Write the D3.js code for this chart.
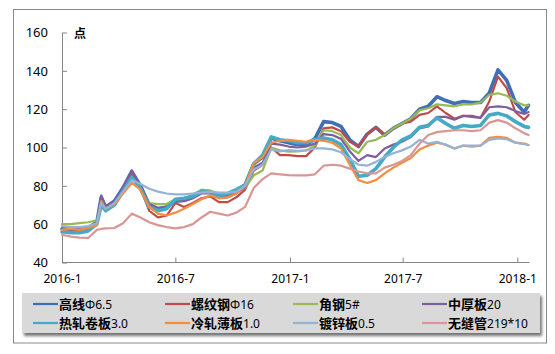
<!DOCTYPE html>
<html>
<head>
<meta charset="utf-8">
<script src="https://cdn.jsdelivr.net/npm/d3@7"></script>
<style>
  body { margin: 0; background: #fff; }
  svg { display: block; }
</style>
</head>
<body>
<svg id="chart"></svg>
<script>
// Dates (roughly fortnightly, plus the March 2016 spike)
const dates = ["2016-01-01","2016-01-15","2016-01-29","2016-02-12","2016-02-26","2016-03-04",
  "2016-03-11","2016-03-25","2016-04-08","2016-04-22","2016-05-06","2016-05-20","2016-06-03","2016-06-17",
  "2016-07-01","2016-07-15","2016-07-29","2016-08-12","2016-08-26","2016-09-09","2016-09-23","2016-10-07",
  "2016-10-21","2016-11-04","2016-11-18","2016-12-02","2016-12-16","2016-12-30","2017-01-13","2017-01-27",
  "2017-02-10","2017-02-24","2017-03-10","2017-03-24","2017-04-07","2017-04-21","2017-05-05","2017-05-19",
  "2017-06-02","2017-06-16","2017-06-30","2017-07-14","2017-07-28","2017-08-11","2017-08-25","2017-09-08",
  "2017-09-22","2017-10-06","2017-10-20","2017-11-03","2017-11-17","2017-12-01","2017-12-15","2017-12-29",
  "2018-01-12","2018-01-19"];

// Series values (index points)
const gaoxian = [57.5,57,57,58,61,74, 69,72,79,87.5,80,70,68,69, 72,72.5,74,77,77,75,75.5,77, 80.5,91.5,95,105,103.5,102.5,101.5,101.5,
  104.5,113.5,113,111,104,100.5,107,110.5, 106.5,110,112.5,115,120,121.5,126.5,124.5, 123,124,123.5,123.5,128.5,140.5,135,123.5, 118.5,122];
const luowen = [56,56,56.5,57.5,60,73, 68.5,71,77,86,79,67,63.5,64.5, 71,69,71,73.5,74.5,71.5,71.5,74, 78,88,91,100,96,96,95.5,95.5,
  100,110,110.5,108.5,103,100.5,107,110.5, 106.5,110,112.5,113.5,117,118,121.5,118, 115,116.5,116.5,115.5,124,137,131,118.5, 114.5,117];
const jiaogang = [60,60,60.5,61,62,72, 68,71,77,84,79,71,70.5,70.5, 73,73,75.5,78,77.5,75.5,76,77, 79,85.5,88,100,98.5,97.8,98,98.5,
  101,109,108.5,106.5,100,97,103,104, 106.5,110,112.5,115,119.5,120.5,122.5,122, 121.5,122.5,122.5,123.5,127.5,128.3,127,124, 122,122];
const zhonghou = [58,57.5,57.5,58.5,61,75, 69,72,79,88,80,70.5,68.5,69, 72,72,73.5,76,76,74,74,76, 79.5,89.5,92,102,101.5,100.5,100,100.5,
  102,107,106.5,104.5,98,93,96,95, 99.5,101.5,103,105.5,110,111,116,116, 114.5,116.5,116,115.5,121,121.5,121,119, 117.5,118.5];
const rezha = [56,55.5,55.5,56.5,60,70, 67,70,77,84.5,78.5,69,67,68, 73,73.5,74.5,77,76.5,75,76,78, 80.5,91.5,96,105.5,104,103.5,102.5,102.5,
  104,105,104,101.5,94,85,85.5,89, 95,100,104,106,110.5,111.5,115.5,112.5, 110,111.5,111,111.5,117,117.8,116.5,113.5, 111,110.5];
const lengzha = [57,57.5,57,58,59.5,72, 68,70.5,76,81.5,78,69,65.5,64.5, 66,68,70.5,73,75,73.5,74,76, 80,92,95,102.5,103.5,104,103.5,103,
  104,103.5,102.5,99.5,91,83,81.5,83, 86.5,89.5,92,94.5,99,101,102.5,101.5, 99.5,101,100.5,101,105,105.6,105,102.5, 102,101.3];
const duxin = [59,58.5,58.5,59,60.5,71, 68,71,77,83,81,78.5,77,76, 75.5,75.5,76,76.5,77,76.5,76.5,77, 80,88.5,91,99,98,98.7,98.2,98.5,
  99.5,99.5,99,97.5,94,91,90.5,92.5, 95,97,98.5,100.5,104,102,103,101.5, 99.5,101,101,101,104,104.8,104.3,102.5, 101.8,101.3];
const wufeng = [54.5,53.5,53,52.8,57,57.5, 57.8,58,60.5,65.5,63.5,61,59.5,58.5, 57.8,58.5,60,63.5,66.5,65.5,64.5,66, 69,79,83.5,86.5,86,85.6,85.5,85.5,
  86,90.5,91,90.5,89,87.5,86.5,86.5, 89.5,91,93,96,102,106.5,108,108.5, 109,109,108.5,109,113,114.3,113,110, 107.5,106.5];

const seriesNames = ["高线|Φ6.5", "螺纹钢|Φ16", "角钢|5#", "中厚板|20", "热轧卷板|3.0", "冷轧薄板|1.0", "镀锌板|0.5", "无缝管|219*10"];
const seriesValues = [gaoxian, luowen, jiaogang, zhonghou, rezha, lengzha, duxin, wufeng];
const colors = ["#3f6fb5", "#be4b48", "#98b954", "#7d5fa0", "#46a9c5", "#f48d3f", "#95b3d7", "#d99694"];
const widths = [3.6, 2.2, 2.2, 2.2, 3.6, 2.2, 2.2, 2.2];
const yTicks = [40, 60, 80, 100, 120, 140, 160];
const xTicks = ["2016-01-01", "2016-07-01", "2017-01-01", "2017-07-01", "2018-01-01"];

const width = 555, height = 354;
const parse = d3.timeParse("%Y-%m-%d");
const dateObjs = dates.map(parse);

const svg = d3.select("#chart")
    .attr("width", width)
    .attr("height", height);

svg.append("rect").attr("width", width).attr("height", height).attr("fill", "#fff");

// outer chart border
svg.append("rect")
    .attr("x", 13.5).attr("y", 9.5)
    .attr("width", 533).attr("height", 333.5)
    .attr("fill", "none")
    .attr("stroke", "#8a8a8a");

const x = d3.scaleTime()
    .domain([parse("2016-01-01"), parse("2018-01-01")])
    .range([62, 517.3]);

const y = d3.scaleLinear()
    .domain([40, 160])
    .range([262.5, 32.5]);

// Axes
const xAxis = d3.axisBottom(x)
    .tickValues(xTicks.map(parse))
    .tickFormat(d3.timeFormat("%Y-%-m"))
    .tickSizeInner(-5)
    .tickSizeOuter(0)
    .tickPadding(12);

const gx = svg.append("g")
    .attr("transform", `translate(0,${y(40)})`)
    .call(xAxis);
gx.select(".domain").remove();
gx.append("line")
    .attr("x1", 62).attr("x2", 529.5)
    .attr("stroke", "#868686");
gx.selectAll(".tick line").attr("stroke", "#868686");
gx.selectAll("text")
    .attr("fill", "#000")
    .style("font-family", "'Noto Sans', sans-serif")
    .style("font-size", "12px");

const yAxis = d3.axisLeft(y)
    .tickValues(yTicks)
    .tickSizeInner(-5)
    .tickSizeOuter(0)
    .tickPadding(14);

const gy = svg.append("g")
    .attr("transform", `translate(62,0)`)
    .call(yAxis);
gy.select(".domain").attr("stroke", "#868686");
gy.selectAll(".tick line").attr("stroke", "#868686");
gy.selectAll("text")
    .attr("fill", "#000")
    .style("font-family", "'Noto Sans', sans-serif")
    .style("font-size", "13px");

// unit label
svg.append("text")
    .attr("x", 74).attr("y", 38)
    .style("font-family", "'Noto Sans CJK SC', sans-serif")
    .style("font-size", "12px")
    .style("font-weight", "bold")
    .text("点");

// Lines
const line = d3.line()
    .x((d, i) => x(dateObjs[i]))
    .y(d => y(d));

svg.append("g")
    .selectAll("path")
    .data(seriesValues)
    .join("path")
    .attr("d", d => line(d))
    .attr("fill", "none")
    .attr("stroke", (d, i) => colors[i])
    .attr("stroke-width", (d, i) => widths[i])
    .attr("stroke-linejoin", "round")
    .attr("stroke-linecap", "round");

// Legend
const defs = svg.append("defs");
const filter = defs.append("filter").attr("id", "shadow")
    .attr("x", "-5%").attr("y", "-20%").attr("width", "110%").attr("height", "160%");
filter.append("feDropShadow")
    .attr("dx", 2).attr("dy", 3).attr("stdDeviation", 1.6)
    .attr("flood-color", "#000").attr("flood-opacity", 0.55);

const legend = svg.append("g");
legend.append("rect")
    .attr("x", 22).attr("y", 293)
    .attr("width", 518).attr("height", 40)
    .attr("fill", "#d9d9d9")
    .attr("filter", "url(#shadow)");

const colX = [33, 165, 293, 422];
const rowY = [304, 323];

const items = legend.selectAll(".item")
    .data(seriesNames)
    .join("g")
    .attr("class", "item")
    .attr("transform", (d, i) => `translate(${colX[i % 4]},${rowY[Math.floor(i / 4)]})`);

items.append("line")
    .attr("x1", 0).attr("x2", 25)
    .attr("stroke", (d, i) => colors[i])
    .attr("stroke-width", 2.2);

const labels = items.append("text")
    .attr("x", 26).attr("y", 4.5)
    .attr("fill", "#000");
labels.append("tspan")
    .style("font-family", "'Noto Sans CJK SC', sans-serif")
    .style("font-size", "13px")
    .style("font-weight", "bold")
    .text(d => d.split("|")[0]);
labels.append("tspan")
    .style("font-family", "'Noto Sans', sans-serif")
    .style("font-size", "12px")
    .text(d => d.split("|")[1]);
</script>
</body>
</html>
